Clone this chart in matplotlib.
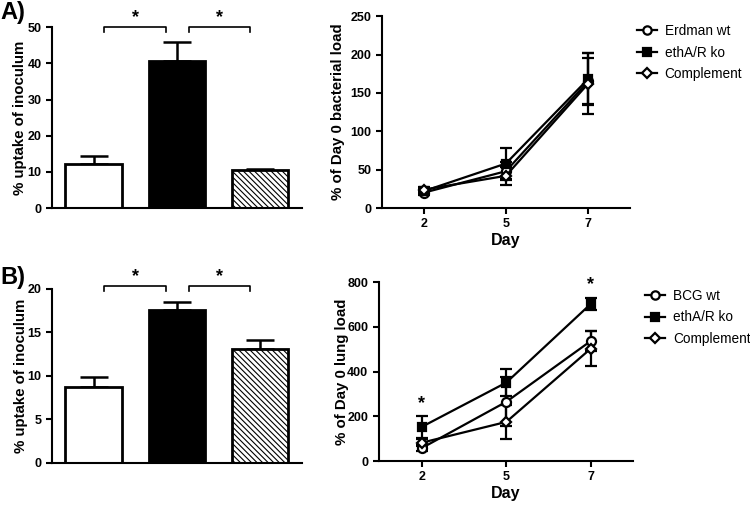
import numpy as np
import matplotlib
matplotlib.use('Agg')
import matplotlib.pyplot as plt
from matplotlib.lines import Line2D

plt.rcParams['font.family'] = ['Liberation Sans', 'DejaVu Sans']
plt.rcParams['hatch.linewidth'] = 0.8

# Bar data: % uptake of inoculum
bar_a = [12.1, 40.7, 10.4]
bar_a_err = [2.2, 5.1, 0.5]
bar_b = [8.75, 17.6, 13.05]
bar_b_err = [1.1, 0.85, 1.1]

# Time course data
days = ['2', '5', '7']
a_labels = ['Erdman wt', 'ethA/R ko', 'Complement']
a_vals = [[20, 48, 165], [22, 58, 168], [24, 42, 162]]
a_err = [[3, 12, 30], [3, 20, 34], [3, 12, 40]]
b_labels = ['BCG wt', 'ethA/R ko', 'Complement']
b_vals = [[58, 265, 537], [153, 351, 703], [82, 175, 503]]
b_err = [[12, 110, 43], [50, 62, 26], [15, 75, 78]]

markers = [dict(marker='o', mfc='white'), dict(marker='s', mfc='black'),
           dict(marker='D', mfc='white')]
msizes = [6.5, 6, 5.5]

fig = plt.figure(figsize=(7.5, 5.05), dpi=100)


def style_axes(ax):
    for s in ['top', 'right']:
        ax.spines[s].set_visible(False)
    for s in ['left', 'bottom']:
        ax.spines[s].set_linewidth(1.5)
    ax.tick_params(width=1.5, length=4, direction='out')
    for lab in ax.get_yticklabels() + ax.get_xticklabels():
        lab.set_fontweight('bold')
        lab.set_fontsize(9)


def bar_panel(ax, vals, errs, ymax, step, brk_y, brk_drop, star_y):
    x = np.arange(3)
    colors = ['white', 'black', 'white']
    hatches = [None, None, '\\\\\\\\\\\\']
    for i in range(3):
        ax.bar(x[i], vals[i], width=0.68, color=colors[i], edgecolor='black',
               linewidth=2, hatch=hatches[i], zorder=2)
        ax.errorbar(x[i], vals[i], yerr=[[0], [errs[i]]], color='black',
                    capsize=10, elinewidth=1.8, capthick=1.8, zorder=1)
    ax.set_xlim(-0.5, 2.5)
    ax.set_ylim(0, ymax)
    ax.set_yticks(np.arange(0, ymax + 0.1, step))
    ax.set_xticks([])
    ax.set_ylabel('% uptake of inoculum', fontsize=10.8, fontweight='bold',
                  labelpad=0)
    style_axes(ax)
    for x0, x1 in [(0.13, 0.87), (1.14, 1.88)]:
        ax.plot([x0, x0, x1, x1], [brk_y - brk_drop, brk_y, brk_y, brk_y - brk_drop],
                color='black', lw=1.2, clip_on=False)
        ax.text((x0 + x1) / 2, star_y, '*', ha='center', va='center',
                fontsize=13, fontweight='bold', clip_on=False)


def line_panel(ax, vals, errs, ymax, step, ylabel, xmax, pad):
    x = np.arange(3)
    for i in range(3):
        ax.errorbar(x, vals[i], yerr=errs[i], color='black', lw=1.6,
                    capsize=4, capthick=1.6, elinewidth=1.6, mec='black',
                    mew=1.6, ms=msizes[i], **markers[i])
    ax.set_xlim(-0.51, xmax)
    ax.set_ylim(0, ymax)
    ax.set_yticks(np.arange(0, ymax + 1, step))
    ax.set_xticks(x)
    ax.set_xticklabels(days)
    ax.set_ylabel(ylabel, fontsize=10.8, fontweight='bold', labelpad=pad)
    ax.set_xlabel('Day', fontsize=11.5, fontweight='bold', labelpad=2)
    style_axes(ax)


def add_legend(labels, x, y):
    handles = [Line2D([], [], color='black', lw=1.6, mec='black', mew=1.6,
                      ms=msizes[i] - 0.5, **markers[i]) for i in range(3)]
    fig.legend(handles, labels, loc='upper left', bbox_to_anchor=(x, y),
               frameon=False, fontsize=9.8, handlelength=1.5, borderpad=0,
               borderaxespad=0, labelspacing=0.55, handletextpad=0.55)


# Panel A
ax1 = fig.add_axes([0.0693, 0.588, 0.333, 0.358])
bar_panel(ax1, bar_a, bar_a_err, 50, 10, 50, 1.4, 52.6)
ax2 = fig.add_axes([0.509, 0.588, 0.331, 0.380])
line_panel(ax2, a_vals, a_err, 250, 50, '% of Day 0 bacterial load', 2.51, 4)
add_legend(a_labels, 0.849, 0.952)

# Panel B
ax3 = fig.add_axes([0.0693, 0.0832, 0.333, 0.345])
bar_panel(ax3, bar_b, bar_b_err, 20, 5, 20.3, 0.6, 21.4)
ax4 = fig.add_axes([0.505, 0.0871, 0.339, 0.354])
line_panel(ax4, b_vals, b_err, 800, 200, '% of Day 0 lung load', 2.5, -1)
add_legend(b_labels, 0.86, 0.428)
for xi, yi in [(0, 255), (2, 790)]:
    ax4.text(xi, yi, '*', ha='center', va='center', fontsize=13,
             fontweight='bold', clip_on=False)

fig.text(0.0, 0.976, 'A)', fontsize=17, fontweight='bold', va='center')
fig.text(0.0, 0.451, 'B)', fontsize=17, fontweight='bold', va='center')

fig.savefig('out.png', dpi=100)
